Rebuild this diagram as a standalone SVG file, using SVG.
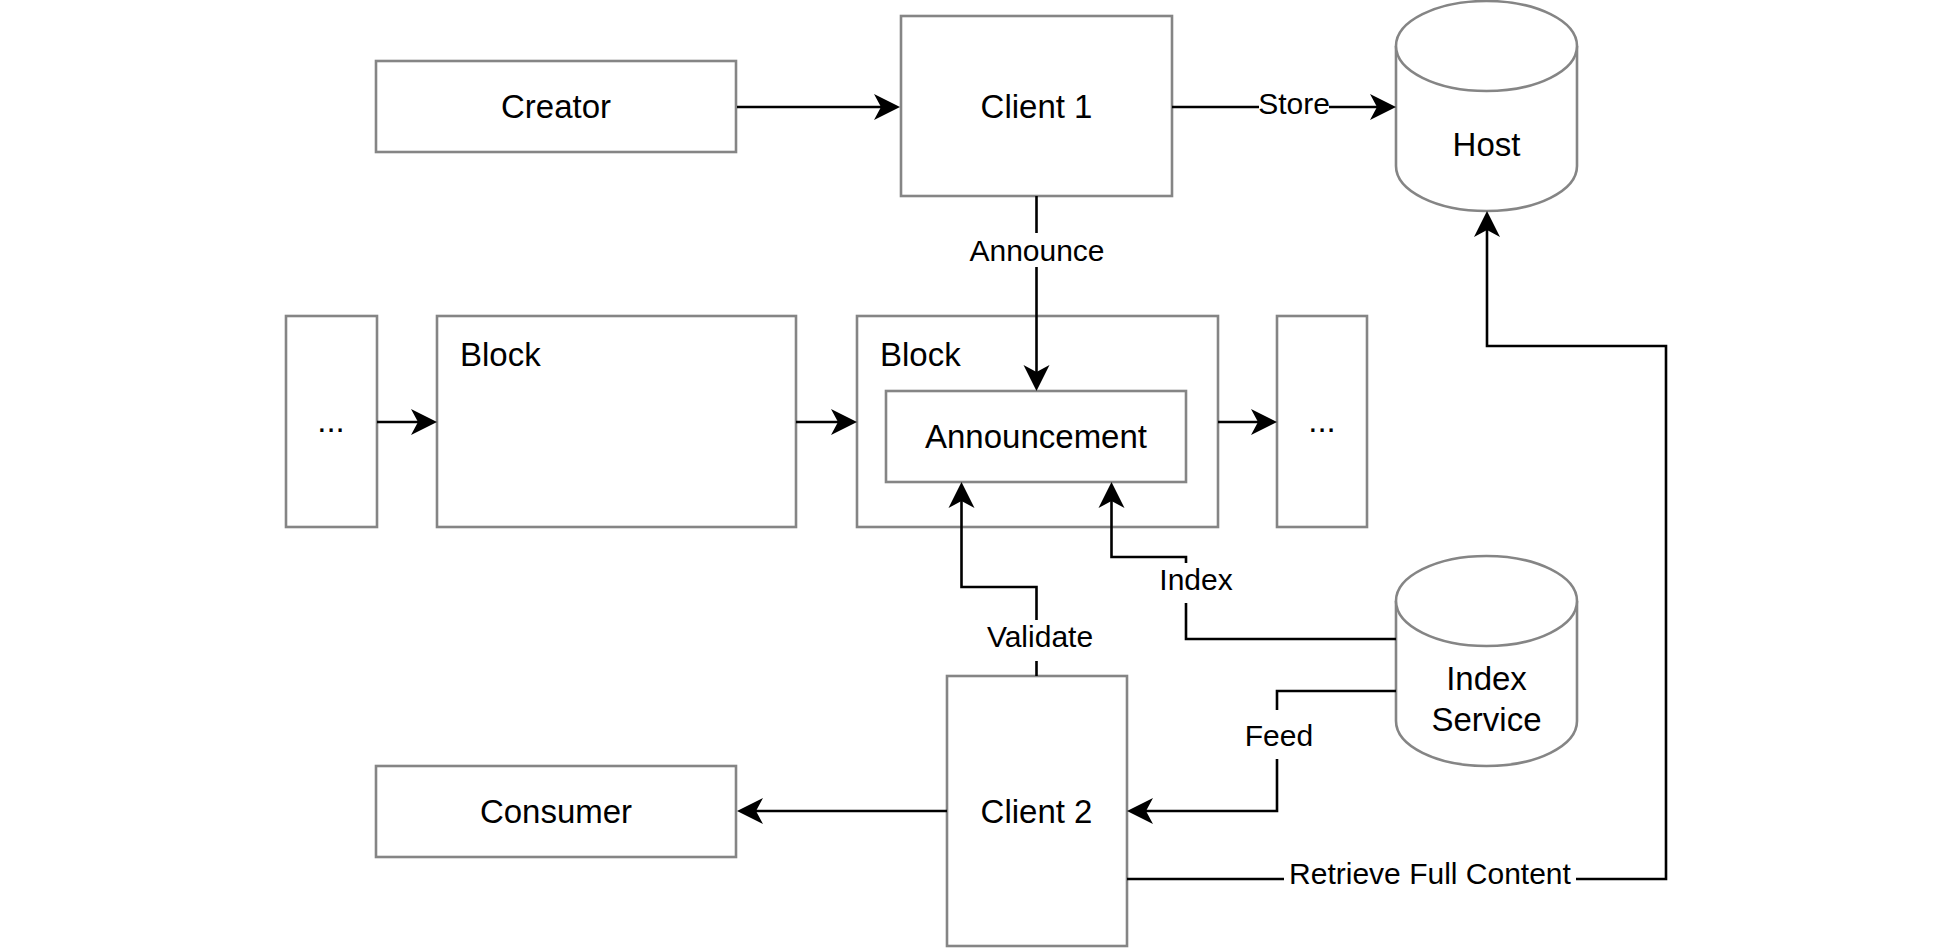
<svg xmlns="http://www.w3.org/2000/svg" width="1953" height="948" viewBox="0 0 1953 948">
<style>
.node{fill:#fff;stroke:#858585;stroke-width:2.6}
.txt{font-family:"Liberation Sans",Arial,sans-serif;font-size:33px;fill:#000;text-anchor:middle}
.ltxt{font-family:"Liberation Sans",Arial,sans-serif;font-size:33px;fill:#000}
.lbl{font-family:"Liberation Sans",Arial,sans-serif;font-size:30px;fill:#000;text-anchor:middle}
.edge{fill:none;stroke:#000;stroke-width:2.6;marker-end:url(#arr)}
.bg{fill:#fff}
</style>
<defs>
<marker id="arr" viewBox="-28 -15 30 30" refX="-4" refY="0" markerWidth="30" markerHeight="30" markerUnits="userSpaceOnUse" orient="auto">
<path d="M0,0 L-26,-13 L-19,0 L-26,13 Z" fill="#000"/>
</marker>
</defs>
<rect width="1953" height="948" fill="#fff"/>

<g id="creator"><rect class="node" x="376" y="61" width="360" height="91"/><text class="txt" x="556" y="118">Creator</text></g>
<g id="client1"><rect class="node" x="901" y="16" width="271" height="180"/><text class="txt" x="1036.5" y="118">Client 1</text></g>
<g id="host"><path class="node" d="M1396,46 A90.5,45 0 0 1 1577,46 L1577,166 A90.5,45 0 0 1 1396,166 Z"/><path class="node" fill="none" d="M1396,46 A90.5,45 0 0 0 1577,46"/><text class="txt" x="1486.5" y="156">Host</text></g>
<g id="dots-left"><rect class="node" x="286" y="316" width="91" height="211"/><text class="txt" x="331" y="432">...</text></g>
<g id="block1"><rect class="node" x="437" y="316" width="359" height="211"/><text class="ltxt" x="460" y="366">Block</text></g>
<g id="block2"><rect class="node" x="857" y="316" width="361" height="211"/><text class="ltxt" x="880" y="366">Block</text></g>
<g id="announcement"><rect class="node" x="886" y="391" width="300" height="91"/><text class="txt" x="1036" y="448">Announcement</text></g>
<g id="dots-right"><rect class="node" x="1277" y="316" width="90" height="211"/><text class="txt" x="1322" y="432">...</text></g>
<g id="index-service"><path class="node" d="M1396,601 A90.5,45 0 0 1 1577,601 L1577,721 A90.5,45 0 0 1 1396,721 Z"/><path class="node" fill="none" d="M1396,601 A90.5,45 0 0 0 1577,601"/><text class="txt" x="1486.5" y="690">Index</text><text class="txt" x="1486.5" y="731">Service</text></g>
<g id="client2"><rect class="node" x="947" y="676" width="180" height="270"/><text class="txt" x="1036.5" y="823">Client 2</text></g>
<g id="consumer"><rect class="node" x="376" y="766" width="360" height="91"/><text class="txt" x="556" y="823">Consumer</text></g>

<g id="connectors">
<path class="edge" d="M737,107 L896,107"/>
<path class="edge" d="M1172,107 L1392,107"/>
<path class="edge" d="M1036.5,196 L1036.5,387"/>
<path class="edge" d="M377,422 L433,422"/>
<path class="edge" d="M796,422 L853,422"/>
<path class="edge" d="M1218,422 L1273,422"/>
<path class="edge" d="M1036.5,676 L1036.5,587 L961.5,587 L961.5,486"/>
<path class="edge" d="M1396,639 L1186,639 L1186,557 L1111.5,557 L1111.5,486"/>
<path class="edge" d="M1396,691 L1277,691 L1277,811 L1131,811"/>
<path class="edge" d="M947,811 L741,811"/>
<path class="edge" d="M1127,879 L1666,879 L1666,346 L1487,346 L1487,215"/>
<g id="labels">
<rect class="bg" x="1259" y="88" width="70" height="32"/><text class="lbl" x="1294" y="114">Store</text>
<rect class="bg" x="969" y="233" width="136" height="34"/><text class="lbl" x="1037" y="261">Announce</text>
<rect class="bg" x="984" y="620" width="112" height="41"/><text class="lbl" x="1040" y="647">Validate</text>
<rect class="bg" x="1159" y="563" width="75" height="40"/><text class="lbl" x="1196" y="590">Index</text>
<rect class="bg" x="1244" y="710" width="70" height="49"/><text class="lbl" x="1279" y="746">Feed</text>
<rect class="bg" x="1284" y="858" width="292" height="34"/><text class="lbl" x="1430" y="884">Retrieve Full Content</text>
</g>
</g>
</svg>
